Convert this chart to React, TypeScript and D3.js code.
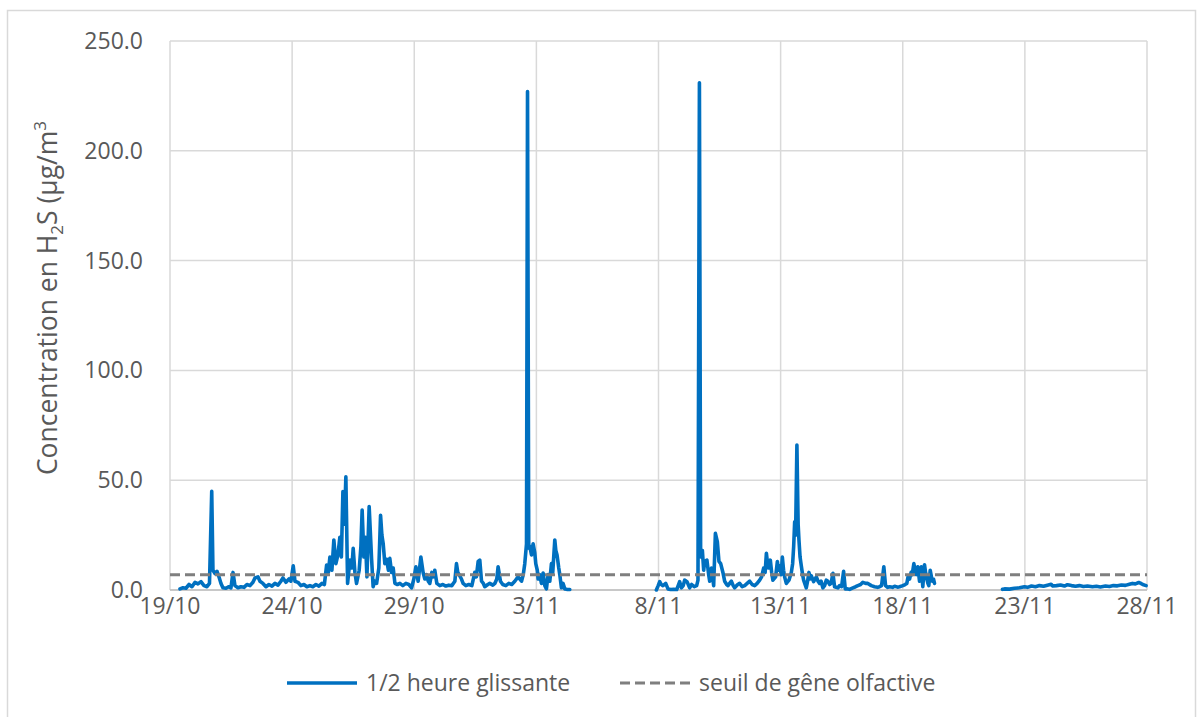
import React from "react";
import * as d3 from "d3";

// hours since 19/10 00:00 (UTC) and concentration (µg/m³)
const seg1Hours = [9.8,12.8,15.7,18.7,21.6,24.6,27.5,30.4,33.4,36.3,38.8,41.0,42.2,44.2,46.2,48.1,50.1,52.0,55.0,57.9,59.9,61.9,63.8,66.8,69.7,72.7,75.6,78.6,81.5,83.5,86.4,88.4,91.3,94.3,97.2,100.2,103.1,106.1,109.0,111.0,113.9,116.9,118.8,121.1,122.8,125.7,128.6,131.6,134.5,137.5,140.4,143.4,146.3,149.3,151.7,153.9,155.6,157.1,159.1,161.0,163.0,165.0,166.9,168.4,169.9,171.4,172.8,174.5,176.8,178.7,180.0,181.7,183.3,185.9,187.6,188.8,190.5,192.0,193.5,195.7,198.1,199.6,201.3,203.0,205.2,206.9,208.2,209.5,211.1,212.8,214.6,216.0,217.7,219.3,221.0,223.4,225.9,228.8,231.8,234.7,237.4,239.6,241.6,243.8,246.5,248.7,250.4,252.1,253.8,255.3,257.3,258.8,260.2,262.2,265.1,268.1,271.0,274.0,276.9,279.9,281.5,282.8,284.1,286.4,288.0,290.7,293.6,296.6,299.5,301.0,302.8,304.4,306.1,307.9,309.3,312.3,314.2,317.2,319.2,321.1,322.4,324.7,327.0,330.0,332.9,335.8,338.8,342.0,345.4,347.1,348.6,350.3,351.3,352.5,353.5,355.2,356.8,358.4,359.4,360.9,361.7,363.3,365.0,366.6,368.3,369.9,371.5,373.2,374.8,376.1,378.1,379.1,380.3,382.0,383.0,384.6,386.2,387.9,389.9,392.8];
const seg1Values = [0.5,1.0,0.8,2.5,1.5,3.5,2.8,3.8,2.0,1.5,3.0,45,9,7.5,8.5,6,3,1,0.8,1.5,1.0,8,2,1,1.5,1.2,2.5,2.0,3.5,5.5,6.0,4,3,1.5,2.5,1.8,3.0,2.2,4.0,5.5,3.5,5.0,4,11,4,3.5,2,2.5,1.5,2.0,1.5,2.5,1.8,3.0,2.5,11.4,8,15,9,22.8,12,16,24,15,44.8,30,51.6,3,13.6,10,19,8,3,9,20,36.4,15,24,6,38,14,1.5,4,3,10,34,25,21,12,14,9,14.4,8,10,3,2.5,3,2,3,2.5,1,5,10.6,4,15,8,5,7,4,3,8,6,9,3,2,2.5,1.8,2.2,2,4,12,8,7,5,3,2,2.5,2,8,6,13,13.6,4,3,1.5,2.5,3,2.2,3,5,10.6,4,2.5,2,3,2.5,4,6,4,7,12,21,227,19,20,16,21,17,12,9,5,7,3,7.7,2,0.5,7,4,12,8,22.8,18,16,10,7,1,3,0.5,0.3,0.2];

const seg2Hours = [477.9,479.7,481.2,482.7,484.4,487.1,489.3,492.0,494.9,497.9,500.8,502.5,504.3,505.7,508.0,510.6,512.6,515.1,517.5,518.8,520.2,521.4,523.1,524.4,525.4,527.6,529.3,530.3,532.0,534.2,535.9,537.8,539.4,541.1,543.3,545.0,547.0,548.3,549.9,551.6,553.4,554.8,557.8,559.7,562.2,564.7,567.1,569.6,572.0,574.5,576.9,579.4,581.3,583.3,584.8,586.0,587.2,588.2,589.9,591.2,592.4,595.1,596.8,598.0,599.0,600.5,601.7,602.9,603.9,605.6,608.2,610.5,611.8,612.8,613.8,614.7,616.0,617.2,618.0,619.1,620.3,621.6,622.6,625.2,626.5,627.8,629.0,630.1,632.4,635.1,636.8,638.3,639.8,641.5,643.2,644.9,646.4,648.1,649.6,651.4,653.0,656.3,657.9,659.9,661.9,663.5,665.8,667.8,671.0,673.7,675.9,678.6,680.8,683.5,685.7,689.1,692.3,695.3,697.2,699.2,701.4,703.1,705.1,707.0,710.0,712.0,714.9,716.9,720.1,722.3,724.0,725.2,726.7,728.2,729.3,730.9,732.1,733.3,734.8,736.5,738.2,739.7,741.4,742.4,743.7,744.7,745.6,747.0,749.0,750.2,751.2];
const seg2Values = [0,2,3.8,2.5,2,3,0.5,0.2,0.3,0.2,3.8,1,2,4.5,3.8,1,2.5,1.5,2,4.5,231,15,18,9,13,13.6,7,4,10,2,25.8,22,13,12,8,4,2.5,2,3,4,2,1,2.5,3,1.5,2,3,4,2.5,2,3,4.5,6,10,8,16.7,12,10,13.6,8,4.5,6,13,9,11,7,15,9,6,3,4.5,8,12,19.7,31,25,66,30,22.8,15,11,7,4.5,1,4,8,5,6.5,3.8,6,4,3,4,1,2,4.5,4,2.5,3,7.6,1.5,1,2,1.5,8.5,0.5,0.5,0.3,1,1.5,2,2.5,3.5,3,3,2,1.5,1.2,1.5,2,10.6,2,1.2,1.5,1.2,1.7,1.3,1.5,2,2.5,3,6,5,8,7,12,9,7,10.6,4,10.6,1.5,11.5,8,5,3,2,9,4,5,3];

const seg3Hours = [818.0,820.0,824.9,829.8,834.7,839.6,842.6,846.5,850.4,854.3,858.3,862.2,865.8,867.4,871.0,875.0,878.9,881.8,885.8,889.7,893.6,897.5,901.5,906.4,910.3,914.2,919.2,923.1,927.0,930.9,934.9,938.8,942.7,945.7,948.6,951.9,953.5,955.8,959.1];
const seg3Values = [0.3,0.5,0.4,0.8,1.0,1.5,1.2,1.8,1.5,2,1.7,2.2,2.6,1.8,2.0,2.3,1.8,2.4,2.0,1.7,2.0,1.6,1.8,1.5,1.7,1.4,1.8,1.6,2.0,1.9,2.3,2.1,2.6,3.0,2.8,3.4,3.1,2.5,2.0];

const threshold = 7;
const yTicks = [0, 50, 100, 150, 200, 250];
const xTickDays = [0, 5, 10, 15, 20, 25, 30, 35, 40];
const seriesLabel = "1/2 heure glissante";
const thresholdLabel = "seuil de gêne olfactive";

const START = Date.UTC(2021, 9, 19);
const toDate = (h: number) => new Date(START + h * 3600 * 1000);

const W = 1203, H = 717;
const M = { left: 170, right: 1147, top: 41, bottom: 590 };
const FONT = "'Open Sans', 'Noto Sans', sans-serif";
const TXT = "#595959";

export default function App() {
  const x = d3.scaleUtc().domain([new Date(START), d3.utcDay.offset(new Date(START), 40)]).range([M.left, M.right]);
  const y = d3.scaleLinear().domain([0, 250]).range([M.bottom, M.top]);
  const fmtX = d3.utcFormat("%-d/%-m");
  const fmtY = d3.format(".1f");

  const line = d3.line<[number, number]>().x(d => x(toDate(d[0]))).y(d => y(d[1]));
  const segs: [number, number][][] = [
    seg1Hours.map((h, i) => [h, seg1Values[i]] as [number, number]),
    seg2Hours.map((h, i) => [h, seg2Values[i]] as [number, number]),
    seg3Hours.map((h, i) => [h, seg3Values[i]] as [number, number]),
  ];
  const tickDates = xTickDays.map(d => d3.utcDay.offset(new Date(START), d));

  return (
    <div style={{ position: "absolute", left: 0, top: 0 }}>
      <svg width={W} height={H} style={{ display: "block", background: "#fff" }}>
        <rect x={7.5} y={10.5} width={1188} height={720} fill="#fff" stroke="#d9d9d9" strokeWidth={1.5} />
        {yTicks.map(t => (
          <line key={"gy" + t} x1={M.left} x2={M.right} y1={y(t)} y2={y(t)} stroke="#d9d9d9" strokeWidth={1.5} />
        ))}
        {tickDates.map((t, i) => (
          <line key={"gx" + i} x1={x(t)} x2={x(t)} y1={M.top} y2={M.bottom} stroke="#d9d9d9" strokeWidth={1.5} />
        ))}
        <line x1={M.left} x2={M.right} y1={y(0)} y2={y(0)} stroke="#bfbfbf" strokeWidth={1.5} />
        {segs.map((s, i) => (
          <path key={"s" + i} d={line(s) || ""} fill="none" stroke="#0070c0" strokeWidth={3.6} strokeLinejoin="round" strokeLinecap="round" />
        ))}
        <line x1={M.left} x2={M.right} y1={y(threshold)} y2={y(threshold)} stroke="#7f7f7f" strokeWidth={3} strokeDasharray="10,5" />
        {yTicks.map(t => (
          <text key={"ty" + t} x={143} y={y(t)} dy="0.35em" textAnchor="end" fontFamily={FONT} fontSize={23} fill={TXT}>{fmtY(t)}</text>
        ))}
        {tickDates.map((t, i) => (
          <text key={"tx" + i} x={x(t)} y={614} textAnchor="middle" fontFamily={FONT} fontSize={23} fill={TXT}>{fmtX(t)}</text>
        ))}
        <text transform={`translate(57, 298) rotate(-90)`} textAnchor="middle" fontFamily={FONT} fontSize={26.5} fill={TXT}>
          Concentration en H<tspan fontSize={17} dy={6}>2</tspan><tspan dy={-6}>S (µg/m</tspan><tspan fontSize={17} dy={-11}>3</tspan>
        </text>
        <line x1={287} x2={357} y1={683} y2={683} stroke="#0070c0" strokeWidth={3.6} />
        <text x={366} y={683} dy="0.35em" fontFamily={FONT} fontSize={23} fill={TXT}>{seriesLabel}</text>
        <line x1={620} x2={690} y1={683} y2={683} stroke="#7f7f7f" strokeWidth={3} strokeDasharray="10,5" />
        <text x={699} y={683} dy="0.35em" fontFamily={FONT} fontSize={23} fill={TXT}>{thresholdLabel}</text>
      </svg>
    </div>
  );
}
